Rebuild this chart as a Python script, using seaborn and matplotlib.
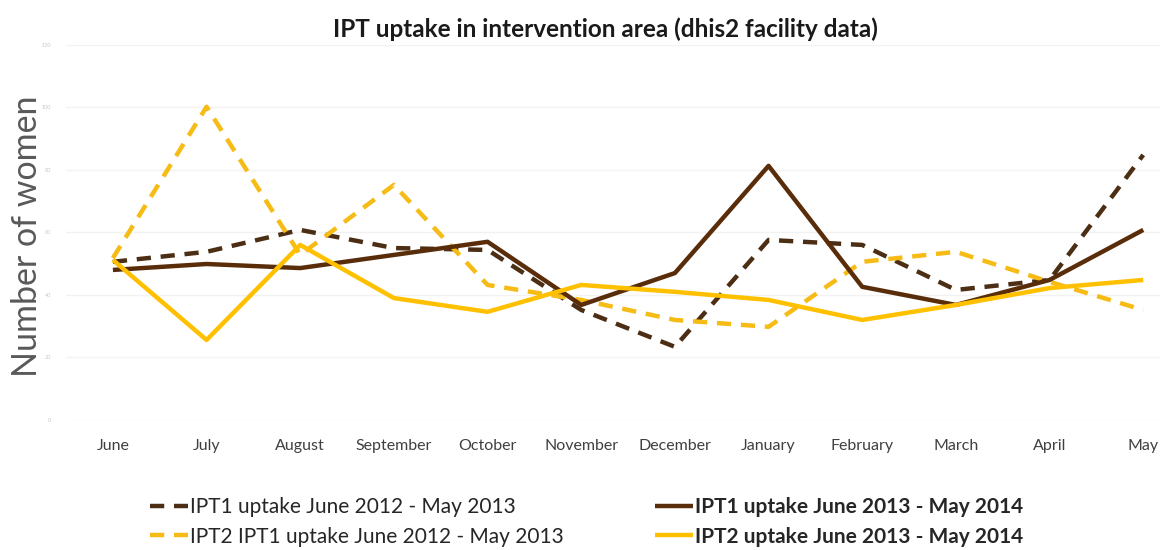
import numpy as np
import pandas as pd
import matplotlib.pyplot as plt
import seaborn as sns

sns.set_theme(style="white")
plt.rcParams['font.family'] = ['Lato', 'DejaVu Sans']

# Data
months = ["June", "July", "August", "September", "October", "November",
          "December", "January", "February", "March", "April", "May"]
ipt1_2012 = [50.6, 53.8, 60.8, 55.0, 54.4, 35.2, 23.4, 57.6, 56.0, 41.6, 44.8, 84.8]
ipt1_2013 = [48.0, 49.9, 48.6, 52.8, 57.0, 36.8, 47.0, 81.3, 42.6, 36.8, 44.8, 60.8]
ipt2_2012 = [51.8, 100.2, 52.8, 75.2, 43.2, 38.4, 32.0, 29.8, 50.6, 53.8, 44.2, 35.2]
ipt2_2013 = [51.2, 25.6, 56.0, 39.0, 34.6, 43.2, 41.0, 38.4, 32.0, 36.8, 42.2, 44.8]
y_ticks = [0, 20, 40, 60, 80, 100, 120]

labels = ["IPT1 uptake June 2012 - May 2013",
          "IPT2 IPT1 uptake June 2012 - May 2013",
          "IPT1 uptake June 2013 - May 2014",
          "IPT2 uptake June 2013 - May 2014"]
series = [ipt1_2012, ipt2_2012, ipt1_2013, ipt2_2013]
colors = ["#4b2e14", "#f6bb14", "#5a2d0a", "#ffc000"]
dashed = [True, True, False, False]

fig = plt.figure(figsize=(11.63, 5.5), dpi=100)
ax = fig.add_axes([0.0568, 0.2364, 0.9407, 0.682])

handles = []
for vals, lab, col, dsh in zip(series, labels, colors, dashed):
    df = pd.DataFrame({"month": months, "women": vals})
    sns.lineplot(data=df, x="month", y="women", ax=ax, color=col,
                 linewidth=3.2, sort=False)
    line = ax.lines[-1]
    if dsh:
        line.set_dashes((3.2, 2.2))
    line.set_solid_capstyle("butt")
    handles.append(line)

ax.set_xlim(-0.5, 11.18)
ax.set_ylim(0, 120)
ax.set_yticks(y_ticks)
ax.set_yticklabels([str(t) for t in y_ticks], fontsize=4, color="#c8c8c8")
ax.yaxis.grid(True, color="#f2f2f2", linewidth=1)
ax.tick_params(axis="x", labelsize=11.5, labelcolor="#404040", pad=8)
ax.tick_params(axis="y", pad=5)
for s in ax.spines.values():
    s.set_visible(False)
ax.set_xlabel("")
ax.set_ylabel("Number of women", fontsize=24.5, color="#595959")
ax.yaxis.set_label_coords(-0.021, 0.49)

fig.suptitle("IPT uptake in intervention area (dhis2 facility data)",
             fontsize=17.5, fontweight="bold", color="#1a1a1a",
             x=0.521, y=0.968)

leg = fig.legend(handles=handles, labels=labels, ncol=2, frameon=False,
                 loc="center left", bbox_to_anchor=(0.129, 0.051),
                 borderpad=0, borderaxespad=0, fontsize=15,
                 handlelength=1.8, handletextpad=0.1,
                 columnspacing=4.4, labelspacing=0.45, labelcolor="#262626")
for t in leg.get_texts()[2:]:
    t.set_fontweight("bold")

fig.savefig("out.png", dpi=100)
